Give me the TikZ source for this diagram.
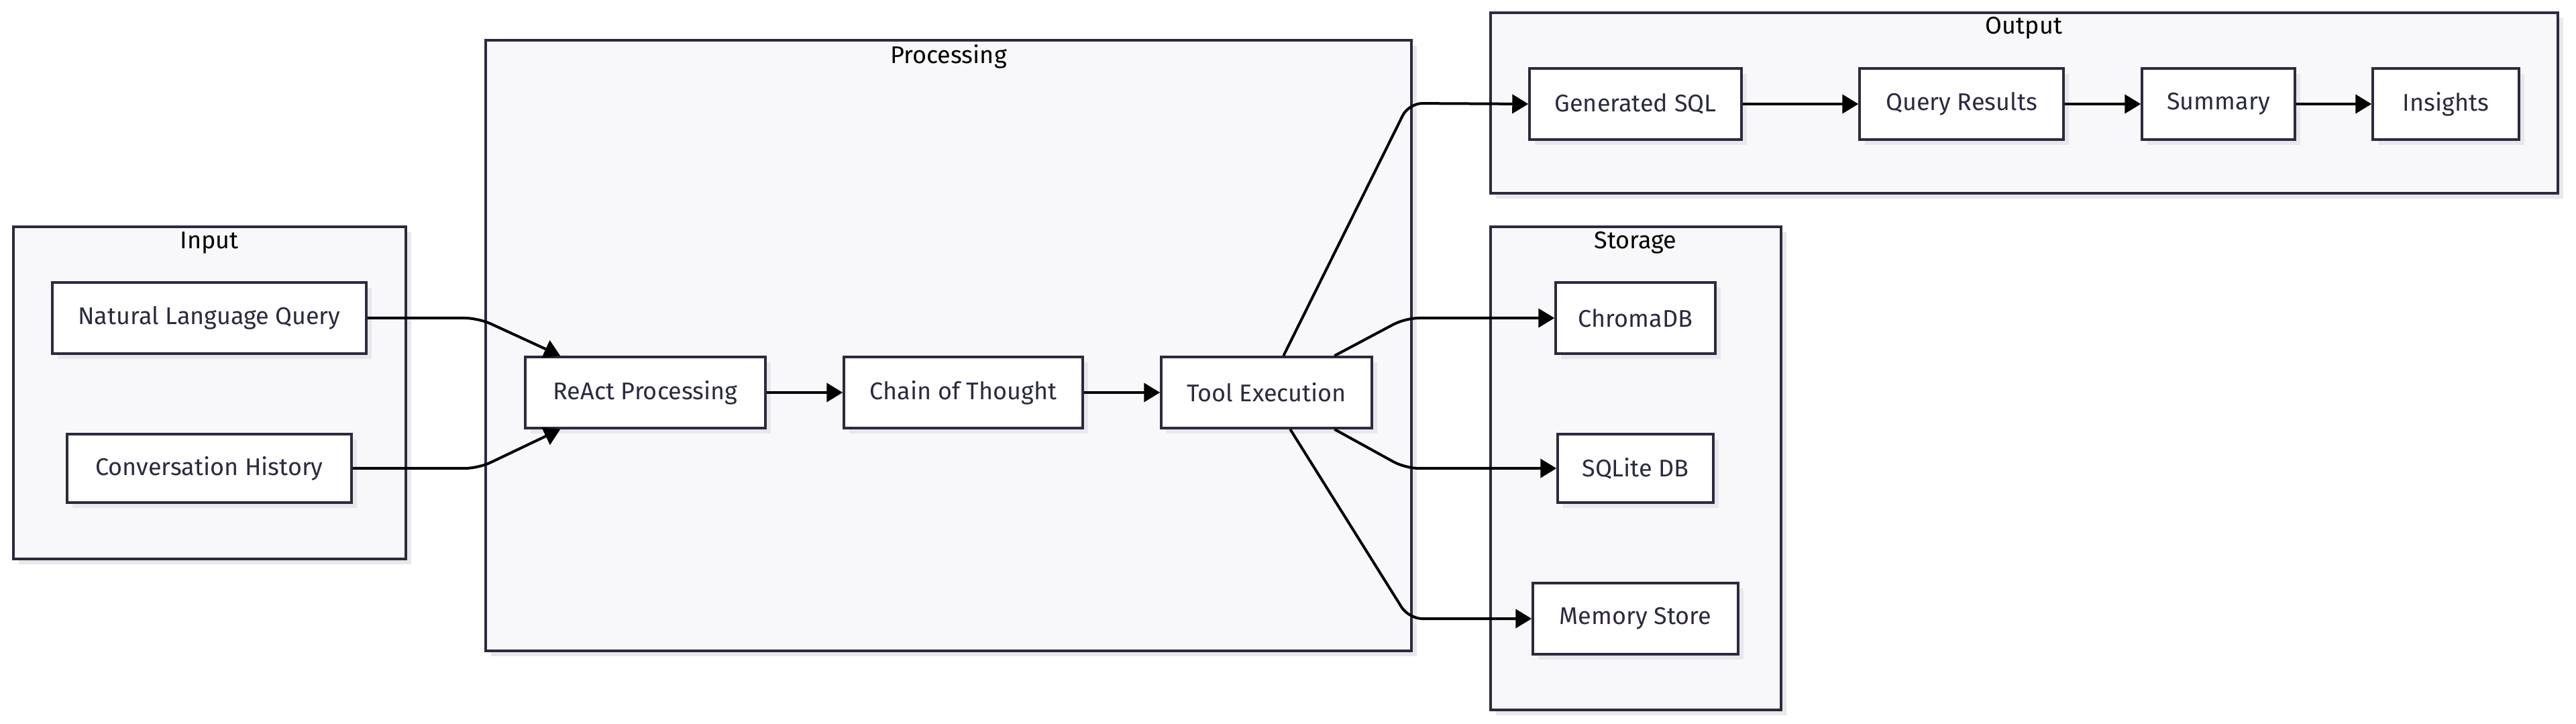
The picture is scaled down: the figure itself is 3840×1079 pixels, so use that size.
\documentclass[tikz,border=0pt]{standalone}
\usepackage{fontspec}
\setmainfont{Fira Sans}
\usetikzlibrary{arrows.meta,shadows}
\definecolor{boxline}{HTML}{2A2A40}
\definecolor{groupfill}{HTML}{F8F8FA}
\definecolor{shade}{HTML}{E8E8EC}
\tikzset{
  box/.style={draw=boxline, line width=1.75pt, fill=white, text=boxline,
    minimum height=53pt, inner sep=0pt, font=\fontsize{18}{21}\selectfont,
    drop shadow={shadow xshift=4pt, shadow yshift=-4pt, fill=shade, opacity=1}},
  group/.style={draw=boxline, line width=1.75pt, fill=groupfill,
    drop shadow={shadow xshift=4pt, shadow yshift=-4pt, fill=shade, opacity=1}},
  grouptitle/.style={font=\fontsize{18}{21}\selectfont, text=black, inner sep=0pt},
  flow/.style={line width=2pt, rounded corners=10pt, -{Triangle[length=12pt,width=14pt]}}
}
\begin{document}
\begin{tikzpicture}[x=0.5pt, y=-0.5pt]
  \useasboundingbox[fill=white] (0,0) rectangle (3840,1079);
  % groups
  \draw[group] (20,338) rectangle (605,833);
  \draw[group] (724,60) rectangle (2104,970);
  \draw[group] (2222,19) rectangle (3813,288);
  \draw[group] (2222,338) rectangle (2655,1058);
  \node[grouptitle] (tin) at (312,362) {Input};
  \node[grouptitle] (tproc) at (1414,84) {Processing};
  \node[grouptitle] (tout) at (3017,42) {Output};
  \node[grouptitle] (tstore) at (2438,362) {Storage};

  \node[box, minimum width=234pt] (nlq) at (312,474) {Natural Language Query};
  \node[box, minimum width=212pt, minimum height=51pt] (hist) at (312,698) {Conversation History};

  \node[box, minimum width=179pt] (react) at (962,585) {ReAct Processing};
  \node[box, minimum width=178pt] (cot) at (1436,585) {Chain of Thought};
  \node[box, minimum width=157pt] (tool) at (1888,585) {Tool Execution};

  \node[box, minimum width=158pt] (sql) at (2438,155) {Generated SQL};
  \node[box, minimum width=152pt] (results) at (2924,155) {Query Results};
  \node[box, minimum width=114pt] (summary) at (3307,155) {Summary};
  \node[box, minimum width=109pt] (insights) at (3646,155) {Insights};

  \node[box, minimum width=119pt] (chroma) at (2438,474) {ChromaDB};
  \node[box, minimum width=116pt, minimum height=51pt] (sqlite) at (2438,698) {SQLite DB};
  \node[box, minimum width=153pt] (memory) at (2438,922) {Memory Store};

  \draw[flow] (nlq.east) -- (713,474) -- ([xshift=27pt]react.north west);
  \draw[flow] (hist.east) -- (713,698) -- ([xshift=27pt]react.south west);
  \draw[flow] (react) -- (cot);
  \draw[flow] (cot) -- (tool);
  \draw[flow] ([xshift=92pt]tool.north west) -- (2100,154) -- (sql.west);
  \draw[flow] ([xshift=130pt]tool.north west) -- (2095,474) -- (chroma.west);
  \draw[flow] ([xshift=130pt]tool.south west) -- (2095,698) -- (sqlite.west);
  \draw[flow] ([xshift=97pt]tool.south west) -- (2100,922) -- (memory.west);
  \draw[flow] (sql) -- (results);
  \draw[flow] (results) -- (summary);
  \draw[flow] (summary) -- (insights);
\end{tikzpicture}
\end{document}
